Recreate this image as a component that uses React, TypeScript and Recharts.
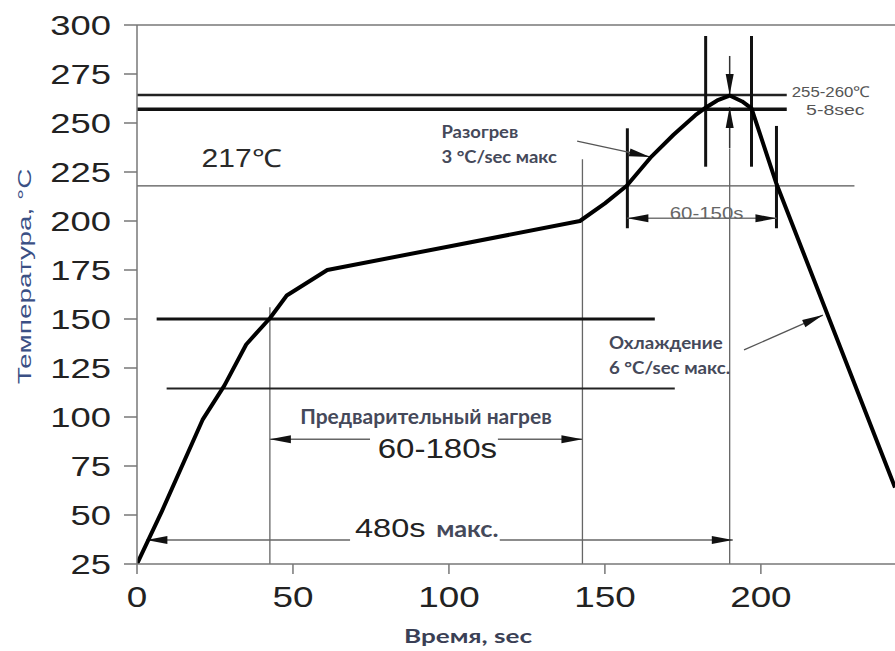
import React from 'react';
import { LineChart, Line, XAxis, YAxis, ReferenceLine, ReferenceDot } from 'recharts';

// reflow profile
const TIME_SEC = [0, 8, 21, 28, 35, 42.6, 48, 61, 100, 142, 150, 157, 165, 172, 179, 182, 186, 190, 194, 197, 205, 243];
const TEMP_C = [25, 52, 98.5, 116, 137, 150.4, 162, 175, 187, 200, 209, 218, 233, 244, 254, 257.5, 261.5, 264, 261, 257.5, 219, 64];
const X_TICKS = [0, 50, 100, 150, 200];
const Y_TICKS = [25, 50, 75, 100, 125, 150, 175, 200, 225, 250, 275, 300];

const data = TIME_SEC.map((t, i) => ({ t, temp: TEMP_C[i] }));

const ARIAL = '"Liberation Sans", Arial, sans-serif';
const SANS = 'Lato, "Open Sans", sans-serif';
const NOTE = '#45495a';

// guide lines: x1, y1, x2, y2, arrow heads, colour, width
const GUIDES: [number, number, number, number, string, string, number][] = [
  [0, 217.9, 230, 217.9, '', '#555', 1.4],
  [42.6, 25, 42.6, 156, '', '#666', 1.3],
  [142.8, 25, 142.8, 231.5, '', '#666', 1.3],
  [190, 25, 190, 237, '', '#666', 1.3],
  [0, 264.3, 208.3, 264.3, '', '#222', 2.5],
  [0, 257, 208.3, 257, '', '#111', 3.5],
  [6.3, 150, 166, 150, '', '#111', 3],
  [9.5, 114.6, 172.4, 114.6, '', '#222', 2],
  [182.3, 227.7, 182.3, 294.4, '', '#111', 3],
  [197, 227.7, 197, 294.4, '', '#111', 3],
  [157.2, 196.3, 157.2, 247.3, '', '#111', 3],
  [205, 196.3, 205, 248.5, '', '#111', 3],
  [190, 284.2, 190, 264.3, 'end', '#333', 1.5],
  [190, 237.2, 190, 258.2, 'end', '#333', 1.5],
  [3, 37.2, 68.3, 37.2, 'start', '#666', 1.5],
  [116.3, 37.2, 191, 37.2, 'end', '#666', 1.5],
  [42.6, 88.6, 74.7, 88.6, 'start', '#666', 1.5],
  [115.7, 88.6, 142.8, 88.6, 'end', '#666', 1.5],
  [157.2, 201.4, 205, 201.4, 'both', '#777', 1.5],
  [141.1, 240.8, 164.5, 232.7, 'end', '#555', 1.3],
  [194.6, 134.2, 219.9, 152, 'end', '#555', 1.3],
];

type Note = { x: number; y: number; text: string; font: string; size: number; sx?: number; weight?: number; fill: string; anchor?: string };

const NOTES: Note[] = [
  { x: 20.7, y: 227.7, text: '217℃', font: ARIAL, size: 25, sx: 1.2, fill: '#2a2a2a' },
  { x: 97.6, y: 242.3, text: 'Разогрев', font: SANS, size: 16.5, sx: 1.12, weight: 700, fill: NOTE },
  { x: 97.6, y: 229.6, text: '3 °C/sec макс', font: SANS, size: 16.5, sx: 1.12, weight: 700, fill: NOTE },
  { x: 209.9, y: 263.4, text: '255-260℃', font: ARIAL, size: 15, sx: 1.12, fill: '#555' },
  { x: 214.5, y: 254.1, text: '5-8sec', font: ARIAL, size: 15, sx: 1.3, fill: '#555' },
  { x: 182.6, y: 200.9, text: '60-150s', font: ARIAL, size: 17, sx: 1.2, fill: '#666', anchor: 'middle' },
  { x: 52.3, y: 96.4, text: 'Предварительный нагрев', font: SANS, size: 20, sx: 1.05, weight: 700, fill: NOTE },
  { x: 96.3, y: 78.9, text: '60-180s', font: ARIAL, size: 28, sx: 1.18, fill: '#222', anchor: 'middle' },
  { x: 69.9, y: 38.9, text: '480s', font: ARIAL, size: 25, sx: 1.3, fill: '#222' },
  { x: 95.9, y: 38.9, text: 'макс.', font: SANS, size: 22, sx: 1.15, weight: 700, fill: NOTE },
  { x: 151.3, y: 134.5, text: 'Охлаждение', font: SANS, size: 17, sx: 1.1, weight: 700, fill: NOTE },
  { x: 151.3, y: 121.9, text: '6 °C/sec макс.', font: SANS, size: 17, sx: 1.1, weight: 700, fill: NOTE },
];

const segShape = (heads: string, color: string, width: number) => (p: any) => {
  const { x1, y1, x2, y2 } = p;
  const len = Math.hypot(x2 - x1, y2 - y1) || 1;
  const ux = (x2 - x1) / len;
  const uy = (y2 - y1) / len;
  const L = 21;
  const W = 4;
  const head = (tx: number, ty: number, dx: number, dy: number) => {
    const bx = tx - dx * L;
    const by = ty - dy * L;
    return `${tx},${ty} ${bx - dy * W},${by + dx * W} ${bx + dy * W},${by - dx * W}`;
  };
  return (
    <g>
      <line x1={x1} y1={y1} x2={x2} y2={y2} stroke={color} strokeWidth={width} />
      {(heads === 'start' || heads === 'both') && <polygon points={head(x1, y1, -ux, -uy)} fill="#111" />}
      {(heads === 'end' || heads === 'both') && <polygon points={head(x2, y2, ux, uy)} fill="#111" />}
    </g>
  );
};

const noteShape = (n: Note) => (p: any) => (
  <text
    transform={`translate(${p.cx},${p.cy}) scale(${n.sx ?? 1},1)`}
    textAnchor={n.anchor ?? 'start'}
    fontFamily={n.font}
    fontSize={n.size}
    fontWeight={n.weight ?? 400}
    fill={n.fill}
  >
    {n.text}
  </text>
);

const YTick = ({ x, y, payload }: any) => (
  <text transform={`translate(${x},${y}) scale(1.3,1)`} dy="0.36em" textAnchor="end" fontFamily={ARIAL} fontSize={28} fill="#222">
    {payload.value}
  </text>
);

const XTick = ({ x, y, payload }: any) => (
  <text transform={`translate(${x},${y + 31}) scale(1.27,1)`} textAnchor="middle" fontFamily={ARIAL} fontSize={29} fill="#222">
    {payload.value}
  </text>
);

export default function App() {
  return (
    <div style={{ position: 'absolute', left: 0, top: 0, width: 895, height: 651, background: '#fff' }}>
      <LineChart width={895} height={651} data={data} margin={{ top: 25, right: 0, bottom: 0, left: 0 }}>
        <XAxis
          type="number"
          dataKey="t"
          domain={[0, 243]}
          ticks={X_TICKS}
          allowDataOverflow
          height={87}
          tickSize={10}
          stroke="#777"
          strokeWidth={1.5}
          tick={<XTick />}
          label={{
            content: () => (
              <text transform="translate(468,643) scale(1.45,1)" textAnchor="middle" fontFamily={SANS} fontWeight={700} fontSize={18} fill="#3a3f55">
                Время, sec
              </text>
            ),
          }}
        />
        <YAxis
          type="number"
          domain={[25, 300]}
          ticks={Y_TICKS}
          allowDataOverflow
          width={137}
          tickSize={13}
          tickMargin={13}
          stroke="#777"
          strokeWidth={1.5}
          tick={<YTick />}
          label={{
            content: () => (
              <text transform="translate(31,276.5) rotate(-90) scale(1.55,1)" textAnchor="middle" fontFamily={ARIAL} fontSize={18} fill="#3b5085">
                Температура, °C
              </text>
            ),
          }}
        />
        <ReferenceLine y={300} stroke="#777" strokeWidth={1.5} ifOverflow="visible" />
        {GUIDES.map(([x1, y1, x2, y2, heads, color, w], i) => (
          <ReferenceLine
            key={'g' + i}
            segment={[{ x: x1, y: y1 }, { x: x2, y: y2 }]}
            ifOverflow="visible"
            shape={segShape(heads, color, w)}
          />
        ))}
        <Line
          type="linear"
          dataKey="temp"
          stroke="#000"
          strokeWidth={4}
          strokeLinejoin="round"
          dot={false}
          isAnimationActive={false}
        />
        {NOTES.map((n, i) => (
          <ReferenceDot key={'n' + i} x={n.x} y={n.y} r={0} ifOverflow="visible" shape={noteShape(n)} />
        ))}
      </LineChart>
    </div>
  );
}
